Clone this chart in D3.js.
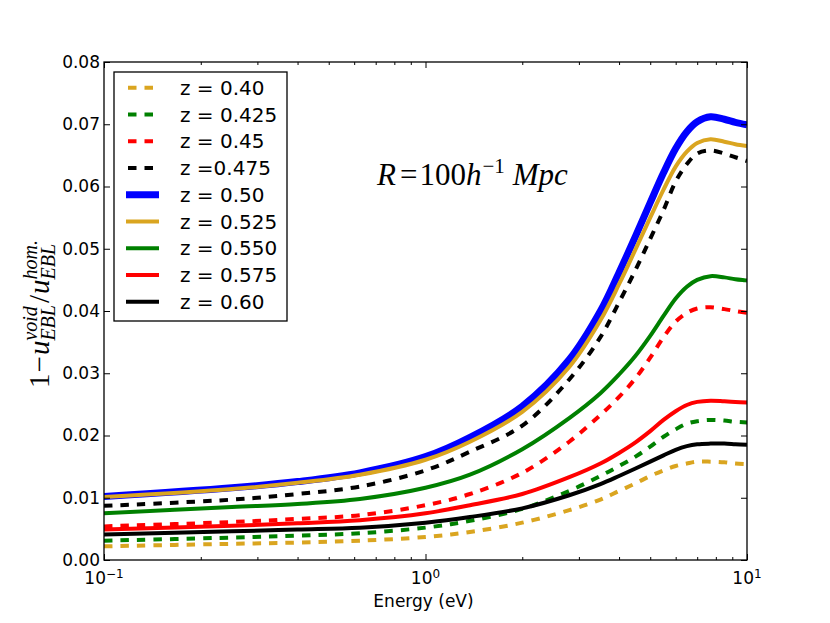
<!DOCTYPE html>
<html>
<head>
<meta charset="utf-8">
<script src="https://cdn.jsdelivr.net/npm/d3@7"></script>
<style>
  body { margin: 0; background: #fff; }
  text { font-family: "DejaVu Sans", sans-serif; }
  .tick line { stroke: #000; stroke-width: 1; }
</style>
</head>
<body>
<div id="chart"></div>
<script>
// Energy grid (eV) and the curves
const energy = [0.1, 0.25, 0.4, 0.625, 1.0, 1.375, 2.0, 2.8, 3.5, 4.0, 4.5, 5.0, 5.5, 6.0, 6.5, 7.0, 7.7, 8.5, 9.2, 10];

const z040  = [0.0022, 0.0026, 0.0028, 0.0031, 0.0037, 0.0045, 0.0060, 0.0080, 0.0097, 0.0111, 0.0123, 0.0135, 0.0144, 0.0151, 0.0155, 0.0158, 0.0158, 0.0157, 0.0155, 0.0154];
const z0425 = [0.0031, 0.0036, 0.0039, 0.0043, 0.0052, 0.0063, 0.0082, 0.0111, 0.0135, 0.0151, 0.0166, 0.0182, 0.0198, 0.0210, 0.0219, 0.0223, 0.0225, 0.0224, 0.0222, 0.0221];
const z045  = [0.0054, 0.0061, 0.0066, 0.0072, 0.0088, 0.0106, 0.0140, 0.0190, 0.0233, 0.0262, 0.0292, 0.0325, 0.0358, 0.0383, 0.0397, 0.0404, 0.0406, 0.0403, 0.0400, 0.0397];
const z0475 = [0.0087, 0.0097, 0.0106, 0.0118, 0.0144, 0.0174, 0.0216, 0.0290, 0.0358, 0.0414, 0.0466, 0.0516, 0.0562, 0.0608, 0.0636, 0.0653, 0.0658, 0.0653, 0.0647, 0.0641];
const z050  = [0.0102, 0.0116, 0.0126, 0.0140, 0.0166, 0.0197, 0.0247, 0.0322, 0.0400, 0.0462, 0.0520, 0.0574, 0.0622, 0.0661, 0.0688, 0.0704, 0.0712, 0.0708, 0.0703, 0.0699];
const z0525 = [0.0101, 0.0114, 0.0124, 0.0137, 0.0161, 0.0190, 0.0238, 0.0310, 0.0385, 0.0443, 0.0499, 0.0550, 0.0595, 0.0632, 0.0656, 0.0670, 0.0676, 0.0672, 0.0668, 0.0665];
const z0550 = [0.0075, 0.0085, 0.0090, 0.0098, 0.0116, 0.0137, 0.0178, 0.0228, 0.0268, 0.0298, 0.0328, 0.0360, 0.0392, 0.0420, 0.0439, 0.0450, 0.0456, 0.0454, 0.0451, 0.0449];
const z0575 = [0.0049, 0.0055, 0.0059, 0.0064, 0.0075, 0.0088, 0.0106, 0.0133, 0.0155, 0.0172, 0.0189, 0.0207, 0.0225, 0.0239, 0.0249, 0.0254, 0.0256, 0.0255, 0.0254, 0.0253];
const z060  = [0.0041, 0.0046, 0.0049, 0.0052, 0.0060, 0.0069, 0.0083, 0.0104, 0.0122, 0.0135, 0.0147, 0.0158, 0.0168, 0.0177, 0.0183, 0.0186, 0.0187, 0.0187, 0.0186, 0.0185];

const labels = ["z = 0.40", "z = 0.425", "z = 0.45", "z =0.475", "z = 0.50", "z = 0.525", "z = 0.550", "z = 0.575", "z = 0.60"];
const values = [z040, z0425, z045, z0475, z050, z0525, z0550, z0575, z060];

const yTicks = [0, 0.01, 0.02, 0.03, 0.04, 0.05, 0.06, 0.07, 0.08];
const xMajor = [0.1, 1, 10];
const xMinor = [0.2, 0.3, 0.4, 0.5, 0.6, 0.7, 0.8, 0.9, 2, 3, 4, 5, 6, 7, 8, 9];

// line styles, same order as labels
const styles = [
    { color: "#DAA520", width: 4, dash: "8.5,8" },
    { color: "#008000", width: 4, dash: "8.5,8" },
    { color: "#FF0000", width: 4, dash: "8.5,8" },
    { color: "#000000", width: 4, dash: "8.5,8" },
    { color: "#0000FF", width: 7, dash: null },
    { color: "#DAA520", width: 4, dash: null },
    { color: "#008000", width: 4, dash: null },
    { color: "#FF0000", width: 4, dash: null },
    { color: "#000000", width: 4, dash: null }
];

const margin = { top: 62, right: 83, bottom: 63, left: 104 };
const width = 830 - margin.left - margin.right;
const height = 623 - margin.top - margin.bottom;

const svg = d3.select("#chart")
    .append("svg")
    .attr("width", 830)
    .attr("height", 623)
    .append("g")
    .attr("transform", `translate(${margin.left},${margin.top})`);

const x = d3.scaleLog().domain([0.1, 10]).range([0, width]);
const y = d3.scaleLinear().domain([0, 0.08]).range([height, 0]);

svg.append("clipPath").attr("id", "clip")
    .append("rect").attr("width", width).attr("height", height);

// Curves
const line = d3.line()
    .x(d => x(d[0]))
    .y(d => y(d[1]))
    .curve(d3.curveCatmullRom.alpha(0.5));

values.forEach((vals, i) => {
    const pts = energy.map((e, j) => [e, vals[j]]);
    svg.append("path")
        .datum(pts)
        .attr("clip-path", "url(#clip)")
        .attr("fill", "none")
        .attr("stroke", styles[i].color)
        .attr("stroke-width", styles[i].width)
        .attr("stroke-dasharray", styles[i].dash)
        .attr("d", line);
});

// Ticks (inward, all four sides)
function noDomain(g) { g.select(".domain").remove(); }

svg.append("g").attr("transform", `translate(0,${height})`)
    .call(d3.axisBottom(x).tickValues(xMajor).tickSize(-6).tickFormat(""))
    .call(noDomain);
svg.append("g").attr("transform", `translate(0,${height})`)
    .call(d3.axisBottom(x).tickValues(xMinor).tickSize(-3).tickFormat(""))
    .call(noDomain);
svg.append("g")
    .call(d3.axisTop(x).tickValues(xMajor).tickSize(-6).tickFormat(""))
    .call(noDomain);
svg.append("g")
    .call(d3.axisTop(x).tickValues(xMinor).tickSize(-3).tickFormat(""))
    .call(noDomain);

svg.append("g")
    .call(d3.axisLeft(y).tickValues(yTicks).tickSize(-6).tickPadding(4).tickFormat(d3.format(".2f")))
    .call(noDomain)
    .selectAll("text")
    .style("font-family", "'DejaVu Sans', sans-serif")
    .style("font-size", "17px")
    .attr("fill", "#000");
svg.append("g").attr("transform", `translate(${width},0)`)
    .call(d3.axisRight(y).tickValues(yTicks).tickSize(-6).tickFormat(""))
    .call(noDomain);

// x tick labels as 10^n
const expo = ["\u22121", "0", "1"];
xMajor.forEach((v, i) => {
    const t = svg.append("text")
        .attr("x", x(v))
        .attr("y", height + 24)
        .attr("text-anchor", "middle")
        .style("font-size", "17px");
    t.append("tspan").text("10");
    t.append("tspan").attr("dy", -6).style("font-size", "12px").text(expo[i]);
});

// frame
svg.append("rect")
    .attr("width", width)
    .attr("height", height)
    .attr("fill", "none")
    .attr("stroke", "#000")
    .attr("stroke-width", 1.3);

// x label
svg.append("text")
    .attr("x", width / 2 - 2)
    .attr("y", height + 47)
    .attr("text-anchor", "middle")
    .style("font-size", "17px")
    .text("Energy (eV)");

// small helper to lay out math-like text pieces with stacked scripts
function mathText(g, pieces) {
    let pos = 0, start = 0;
    pieces.forEach(p => {
        const t = g.append("text")
            .attr("x", p.stack ? start : pos)
            .attr("y", p.dy || 0)
            .style("font-family", "'Liberation Serif', serif")
            .style("font-style", p.it ? "italic" : "normal")
            .style("font-size", p.size + "px")
            .attr("fill", "#000")
            .text(p.s);
        const w = t.node().getComputedTextLength() + (p.pad || 0);
        if (p.stack) {
            pos = Math.max(pos, start + w);
        } else {
            start = pos;
            pos += w;
        }
    });
    return pos;
}

// y label
const yl = svg.append("g");
const ylw = mathText(yl, [
    { s: "1", size: 29, pad: 1 },
    { s: "\u2212", size: 29, pad: 1 },
    { s: "u", size: 29, it: true },
    { s: "void", size: 20, it: true, dy: -12 },
    { s: "EBL", size: 20, it: true, dy: 6, stack: true, pad: 2 },
    { s: "/", size: 29, pad: 1 },
    { s: "u", size: 29, it: true },
    { s: "hom.", size: 20, it: true, dy: -12 },
    { s: "EBL", size: 20, it: true, dy: 6, stack: true }
]);
yl.attr("transform", `translate(${49 - margin.left},${314 - margin.top + ylw / 2}) rotate(-90)`);

// annotation
const ann = svg.append("g");
mathText(ann, [
    { s: "R", size: 31, it: true, pad: 4 },
    { s: "=", size: 31, pad: 2 },
    { s: "100", size: 31 },
    { s: "h", size: 31, it: true, pad: 1 },
    { s: "\u22121", size: 21, dy: -12, pad: 8 },
    { s: "Mpc", size: 31, it: true }
]);
ann.attr("transform", `translate(${377 - margin.left},${185 - margin.top})`);

// legend
const legend = svg.append("g").attr("transform", `translate(${114 - margin.left},${72 - margin.top})`);
legend.append("rect")
    .attr("width", 173)
    .attr("height", 249)
    .attr("fill", "#fff")
    .attr("stroke", "#000")
    .attr("stroke-width", 1.3);

labels.forEach((lab, i) => {
    const cy = 15.7 + i * 26.75;
    legend.append("line")
        .attr("x1", 12).attr("x2", 45)
        .attr("y1", cy).attr("y2", cy)
        .attr("stroke", styles[i].color)
        .attr("stroke-width", styles[i].width)
        .attr("stroke-dasharray", styles[i].dash)
        .attr("stroke-dashoffset", -2);
    legend.append("text")
        .attr("x", 66)
        .attr("y", cy)
        .attr("dy", "0.36em")
        .style("font-size", "20px")
        .text(lab);
});
</script>
</body>
</html>
